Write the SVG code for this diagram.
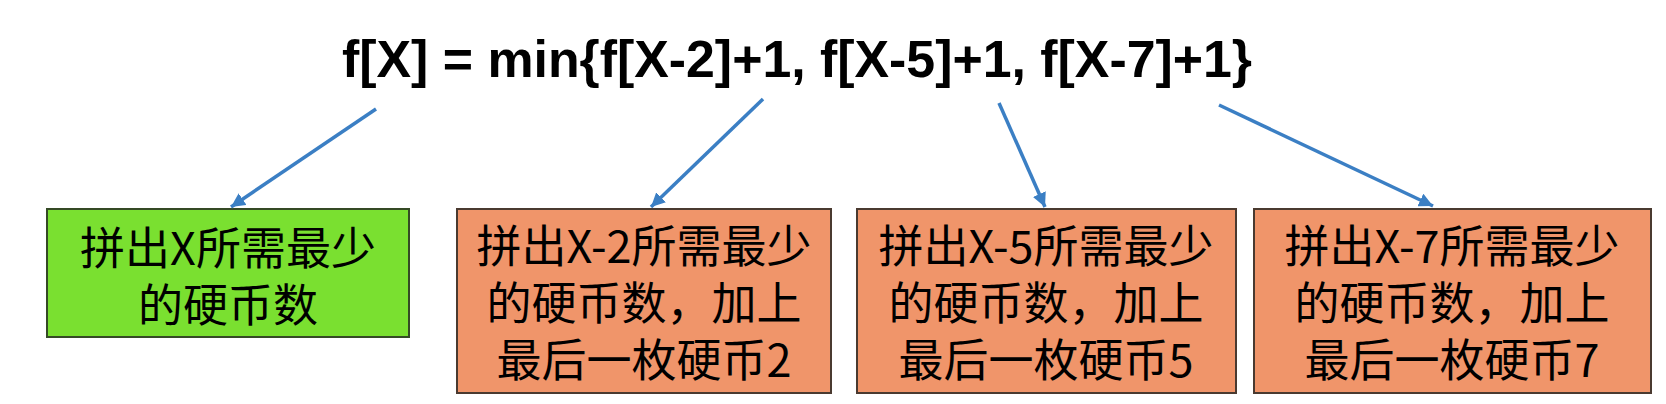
<svg xmlns="http://www.w3.org/2000/svg" width="1666" height="404" viewBox="0 0 1666 404">
  <style>
    .title { font-family: "Liberation Sans", Arial, sans-serif; font-weight: bold; font-size: 52px; fill: #000; }
    .label { font-family: "Noto Sans CJK SC", "Noto Sans", sans-serif; font-size: 45px; fill: #000; text-anchor: middle; }
    .green { fill: #7ae030; stroke: #354a25; stroke-width: 2; }
    .orange { fill: #f0956a; stroke: #4a3a30; stroke-width: 2; }
    .conn { stroke: #3b7fc4; stroke-width: 3.5; fill: none; marker-end: url(#arrow); }
  </style>
  <defs>
    <marker id="arrow" markerUnits="userSpaceOnUse" markerWidth="16" markerHeight="14" refX="14" refY="7" orient="auto">
      <path d="M0,0 L14,7 L0,14 Z" fill="#3b7fc4"/>
    </marker>
  </defs>
  <rect width="1666" height="404" fill="#ffffff"/>

  <g id="title">
    <text class="title" x="342" y="77" textLength="910" lengthAdjust="spacingAndGlyphs">f[X] = min{f[X-2]+1, f[X-5]+1, f[X-7]+1}</text>
  </g>

  <g id="node-fx">
    <rect class="green" x="47" y="209" width="362" height="128"/>
    <text class="label" x="228" y="265">拼出X所需最少</text>
    <text class="label" x="228" y="322">的硬币数</text>
  </g>

  <g id="node-fx2">
    <rect class="orange" x="457" y="209" width="374" height="184"/>
    <text class="label" x="644" y="263">拼出X-2所需最少</text>
    <text class="label" x="644" y="320">的硬币数，加上</text>
    <text class="label" x="644" y="377">最后一枚硬币2</text>
  </g>

  <g id="node-fx5">
    <rect class="orange" x="857" y="209" width="379" height="184"/>
    <text class="label" x="1046" y="263">拼出X-5所需最少</text>
    <text class="label" x="1046" y="320">的硬币数，加上</text>
    <text class="label" x="1046" y="377">最后一枚硬币5</text>
  </g>

  <g id="node-fx7">
    <rect class="orange" x="1254" y="209" width="397" height="184"/>
    <text class="label" x="1452" y="263">拼出X-7所需最少</text>
    <text class="label" x="1452" y="320">的硬币数，加上</text>
    <text class="label" x="1452" y="377">最后一枚硬币7</text>
  </g>

  <g id="connectors">
    <line class="conn" x1="376" y1="109" x2="231" y2="207"/>
    <line class="conn" x1="763" y1="99" x2="651" y2="207"/>
    <line class="conn" x1="999" y1="103" x2="1045" y2="207"/>
    <line class="conn" x1="1219" y1="105" x2="1433" y2="206"/>
  </g>
</svg>
